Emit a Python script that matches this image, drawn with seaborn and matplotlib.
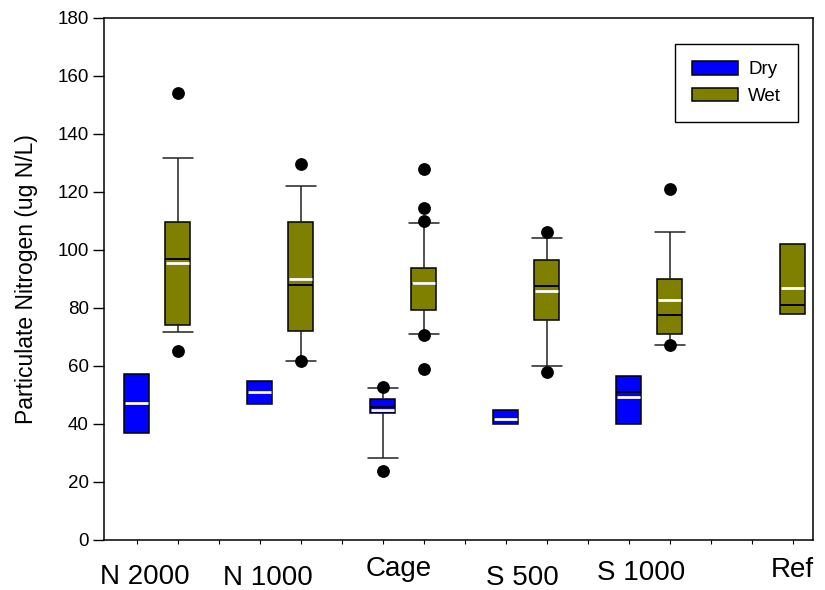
import numpy as np
import pandas as pd
import matplotlib
matplotlib.use("Agg")
import matplotlib.pyplot as plt
import seaborn as sns
from matplotlib.patches import Patch
from matplotlib.ticker import FixedLocator, NullLocator
import matplotlib.transforms as mtransforms

# ---------------- data ----------------
group_labels = ["N 2000", "N 1000", "Cage", "S 500", "S 1000", "Ref"]
label_slot = [0.2, 3.2, 6.4, 9.4, 12.3, 16.0]
label_y = [-0.084, -0.086, -0.069, -0.086, -0.076, -0.071]

box_cond = ["Dry", "Wet", "Dry", "Wet", "Dry", "Wet", "Dry", "Wet", "Dry", "Wet", "Wet"]
box_slot = [0, 1, 3, 4, 6, 7, 9, 10, 12, 13, 16]
box_lo = [36.8, 71.8, 46.9, 61.8, 28.4, 70.9, 39.9, 59.9, 40.0, 67.2, 77.9]
box_q1 = [36.8, 74.1, 46.9, 72.2, 43.9, 79.4, 39.9, 75.9, 40.0, 70.9, 77.9]
box_med = [47.1, 96.9, 51.0, 87.9, 46.0, 88.3, 41.6, 87.7, 51.1, 77.7, 80.9]
box_q3 = [57.2, 109.5, 54.8, 109.7, 48.6, 93.9, 44.8, 96.7, 56.6, 90.1, 102.0]
box_hi = [57.2, 131.7, 54.8, 122.1, 52.3, 109.3, 44.8, 104.3, 56.6, 106.1, 102.0]
box_mean = [47.1, 95.6, 51.0, 90.0, 44.8, 88.7, 41.6, 85.7, 49.4, 82.6, 87.0]

outlier_slot = [1, 1, 4, 4, 6, 6, 7, 7, 7, 7, 7, 10, 10, 13, 13]
outlier_val = [154.0, 65.3, 129.8, 61.7, 52.9, 23.8,
               127.8, 114.6, 110.0, 70.8, 59.1, 106.1, 58.0, 121.0, 67.2]

palette = {"Dry": "#0000FF", "Wet": "#808000"}

# ---------------- long table: the five box statistics per box ----------------
rows = []
for i in range(len(box_slot)):
    whisk = (box_lo[i] < box_q1[i]) or (box_hi[i] > box_q3[i])
    for v in (box_lo[i], box_q1[i], box_med[i], box_q3[i], box_hi[i]):
        rows.append({"slot": box_slot[i], "cond": box_cond[i], "value": v, "whisk": whisk})
df = pd.DataFrame(rows)

# ---------------- figure ----------------
sns.set_style("ticks")
plt.rcParams["font.family"] = ["Liberation Sans", "DejaVu Sans"]
for k in ["text.color", "axes.labelcolor", "xtick.color", "ytick.color", "axes.edgecolor"]:
    plt.rcParams[k] = "black"

fig = plt.figure(figsize=(8.25, 5.9), dpi=100)
ax = fig.add_axes([104 / 825, 50 / 590, 709 / 825, 522 / 590])

box_w = 0.61   # slot units
cap_w = 0.73

for whisk, sub in df.groupby("whisk"):
    uniq = np.sort(sub["slot"].unique())
    spacing = np.min(np.diff(uniq)) if len(uniq) > 1 else 1.0
    sns.boxplot(
        data=sub, x="slot", y="value", hue="cond", palette=palette,
        native_scale=True, dodge=False, width=box_w / spacing,
        whis=(0, 100), saturation=1, linecolor="black", linewidth=1.1,
        showcaps=bool(whisk), showfliers=False, legend=False, ax=ax,
        capwidths=cap_w,
        medianprops={"color": "black", "linewidth": 1.4},
        whiskerprops={"color": "#222222", "linewidth": 1.1},
        capprops={"color": "#222222", "linewidth": 1.1},
    )

# mean lines (white)
slots = np.array(box_slot, dtype=float)
ax.hlines(box_mean, slots - box_w / 2 + 0.02, slots + box_w / 2 - 0.02,
          colors="white", linewidth=2.0, zorder=5)

# outliers
sns.scatterplot(x=outlier_slot, y=outlier_val, color="black", s=85,
                linewidth=0, zorder=6, ax=ax, legend=False)

# ---------------- axes ----------------
ax.set_xlim(-0.8, 16.5)
ax.set_ylim(0, 180)
ax.set_yticks(np.arange(0, 181, 20))
ax.xaxis.set_major_locator(NullLocator())
ax.xaxis.set_minor_locator(FixedLocator(np.arange(0, 17)))
ax.tick_params(axis="x", which="minor", direction="out", length=3, width=0.8, color="black")
ax.tick_params(axis="y", which="major", direction="out", length=8, width=1, color="black",
               labelsize=13.5, pad=3, labelcolor="black")
for sp in ax.spines.values():
    sp.set_visible(True)
    sp.set_color("black")
    sp.set_linewidth(1.1)
ax.set_xlabel("")
ax.set_ylabel("Particulate Nitrogen (ug N/L)", fontsize=16.5, labelpad=14, color="black")

trans = mtransforms.blended_transform_factory(ax.transData, ax.transAxes)
for lab, xs, ys in zip(group_labels, label_slot, label_y):
    ax.text(xs, ys, lab, transform=trans, ha="center", va="baseline",
            fontsize=20, color="black")

handles = [Patch(facecolor=palette[c], edgecolor="black", linewidth=1.1, label=c) for c in ["Dry", "Wet"]]
leg = ax.legend(handles=handles, loc="upper right", bbox_to_anchor=(0.979, 0.95),
                borderaxespad=0, fontsize=13.5, frameon=True, fancybox=False,
                edgecolor="black", framealpha=1, handlelength=2.45, handleheight=0.75,
                handletextpad=0.55, labelspacing=0.5, borderpad=0.9)
leg.get_frame().set_linewidth(1.0)
for t in leg.get_texts():
    t.set_color("black")

fig.savefig("out.png", dpi=100)
